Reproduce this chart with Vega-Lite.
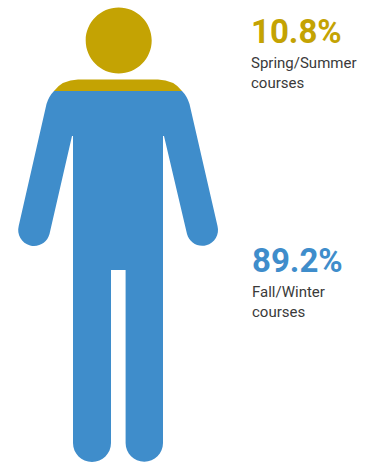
{"$schema":"https://vega.github.io/schema/vega-lite/v6.json","width":370,"height":466,"autosize":{"type":"fit","contains":"padding"},"padding":0,"background":"white","config":{"view":{"stroke":null}},"data":{"values":[{"season":"Spring/Summer","share":0.108,"label":"Spring/Summer\ncourses"},{"season":"Fall/Winter","share":0.892,"label":"Fall/Winter\ncourses"}]},"layer":[{"mark":{"type":"point","filled":true,"opacity":1,"size":4},"encoding":{"color":{"field":"season","type":"nominal","legend":null,"scale":{"domain":["Spring/Summer","Fall/Winter"],"range":["#C4A303","#3F8DCB"]}},"shape":{"field":"season","type":"nominal","legend":null,"scale":{"domain":["Spring/Summer","Fall/Winter"],"range":["M-131 -142 Q-123 -153 -107 -153.5 H-27 Q-11 -153 -3 -142 Z M-99.3 -192.5 A33 33 0 1 1 -33.3 -192.5 A33 33 0 1 1 -99.3 -192.5 Z","M-131 -142 H-3 Q2 -137 4.5 -129 L32.5 -7 A15.7 15.7 0 0 1 2 1 L-21 -97 L-22 -97 V210 A18.7 18.7 0 0 1 -59.4 210 V37 H-74 V210 A19 19 0 0 1 -112 210 V-97 H-113 L-135.5 1 A15.7 15.7 0 0 1 -166.3 -7 L-138.5 -129 Q-136 -137 -131 -142 Z"]}}}},{"mark":{"type":"text","align":"left","baseline":"alphabetic","font":"Roboto","fontWeight":"bold","fontSize":33},"encoding":{"x":{"field":"season","type":"nominal","axis":null,"scale":{"type":"point","padding":0,"domain":["Spring/Summer","Fall/Winter"],"range":[251,252]}},"y":{"field":"season","type":"nominal","axis":null,"scale":{"type":"point","padding":0,"domain":["Spring/Summer","Fall/Winter"],"range":[43,272]}},"text":{"field":"share","type":"quantitative","format":".1%"},"color":{"field":"season","type":"nominal","legend":null}}},{"mark":{"type":"text","align":"left","baseline":"alphabetic","font":"Roboto","fontSize":15,"lineHeight":20,"lineBreak":"\n","dy":25,"color":"#3a3a3a"},"encoding":{"x":{"field":"season","type":"nominal","axis":null},"y":{"field":"season","type":"nominal","axis":null},"text":{"field":"label","type":"nominal"}}}]}
